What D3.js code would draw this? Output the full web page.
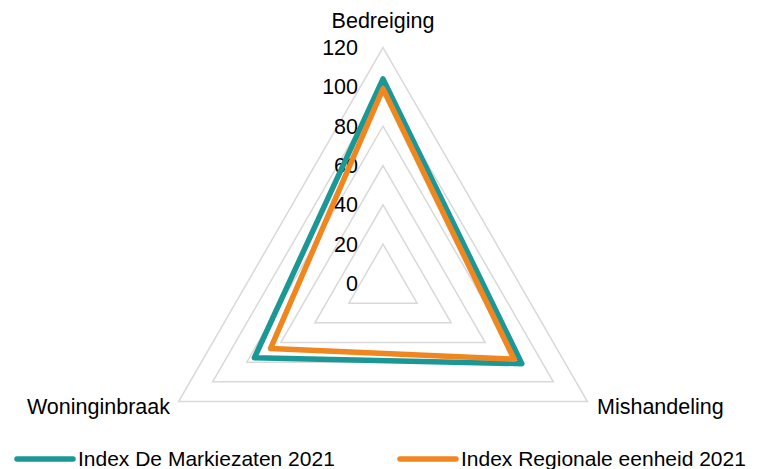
<!DOCTYPE html>
<html>
<head>
<meta charset="utf-8">
<script src="https://cdn.jsdelivr.net/npm/d3@7"></script>
<style>
  body { margin: 0; background: #fff; }
  text { font-family: "Liberation Sans", sans-serif; fill: #000; }
</style>
</head>
<body>
<div id="chart"></div>
<script>
// categories and series
var categories = ["Bedreiging", "Mishandeling", "Woninginbraak"];
var seriesNames = ["Index De Markiezaten 2021", "Index Regionale eenheid 2021"];
var markiezaten = [104, 81.5, 75.5];
var regionale = [99, 77, 66];
var tickValues = [0, 20, 40, 60, 80, 100, 120];
var colors = ["#1b9896", "#f0861f"];

var width = 762, height = 469;
var cx = 383, cy = 283.5;

var svg = d3.select("#chart").append("svg")
    .attr("width", width)
    .attr("height", height);

var r = d3.scaleLinear().domain([0, 120]).range([0, 236]);

// angle for each category, first straight up, clockwise
var angle = function(i) { return i * 2 * Math.PI / categories.length; };
var px = function(i, v) { return cx + r(v) * Math.sin(angle(i)); };
var py = function(i, v) { return cy - r(v) * Math.cos(angle(i)); };

var g = svg.append("g");

// grid rings
tickValues.forEach(function(t) {
    if (t === 0) return;
    var pts = categories.map(function(c, i) { return [px(i, t), py(i, t)]; });
    g.append("path")
        .attr("d", d3.line()(pts) + "Z")
        .attr("fill", "none")
        .attr("stroke", "#d9d9d9")
        .attr("stroke-width", 1.5);
});

// tick labels
g.selectAll(".tick-label")
    .data(tickValues)
    .enter().append("text")
    .attr("class", "tick-label")
    .attr("x", cx - 25)
    .attr("y", function(d) { return cy - r(d); })
    .attr("dy", "0.35em")
    .attr("text-anchor", "end")
    .attr("font-size", "21.5px")
    .text(function(d) { return d; });

// series lines
[markiezaten, regionale].forEach(function(vals, s) {
    var pts = vals.map(function(v, i) { return [px(i, v), py(i, v)]; });
    g.append("path")
        .attr("d", d3.line()(pts) + "Z")
        .attr("fill", "none")
        .attr("stroke", colors[s])
        .attr("stroke-width", 5.5)
        .attr("stroke-linejoin", "round");
});

// axis labels
svg.append("text")
    .attr("x", cx)
    .attr("y", 28)
    .attr("text-anchor", "middle")
    .attr("font-size", "21.5px")
    .text(categories[0]);
svg.append("text")
    .attr("x", 597)
    .attr("y", 414)
    .attr("font-size", "21.5px")
    .text(categories[1]);
svg.append("text")
    .attr("x", 170)
    .attr("y", 414)
    .attr("text-anchor", "end")
    .attr("font-size", "21.5px")
    .text(categories[2]);

// legend
var legendX = [17, 400];
var legend = svg.selectAll(".legend")
    .data(seriesNames)
    .enter().append("g")
    .attr("class", "legend")
    .attr("transform", function(d, i) { return "translate(" + legendX[i] + ",459)"; });
legend.append("line")
    .attr("x1", 0).attr("x2", 56)
    .attr("y1", 0).attr("y2", 0)
    .attr("stroke", function(d, i) { return colors[i]; })
    .attr("stroke-width", 5.5)
    .attr("stroke-linecap", "round");
legend.append("text")
    .attr("x", 61)
    .attr("y", 0)
    .attr("dy", "0.35em")
    .attr("font-size", "21px")
    .text(function(d) { return d; });
</script>
</body>
</html>
